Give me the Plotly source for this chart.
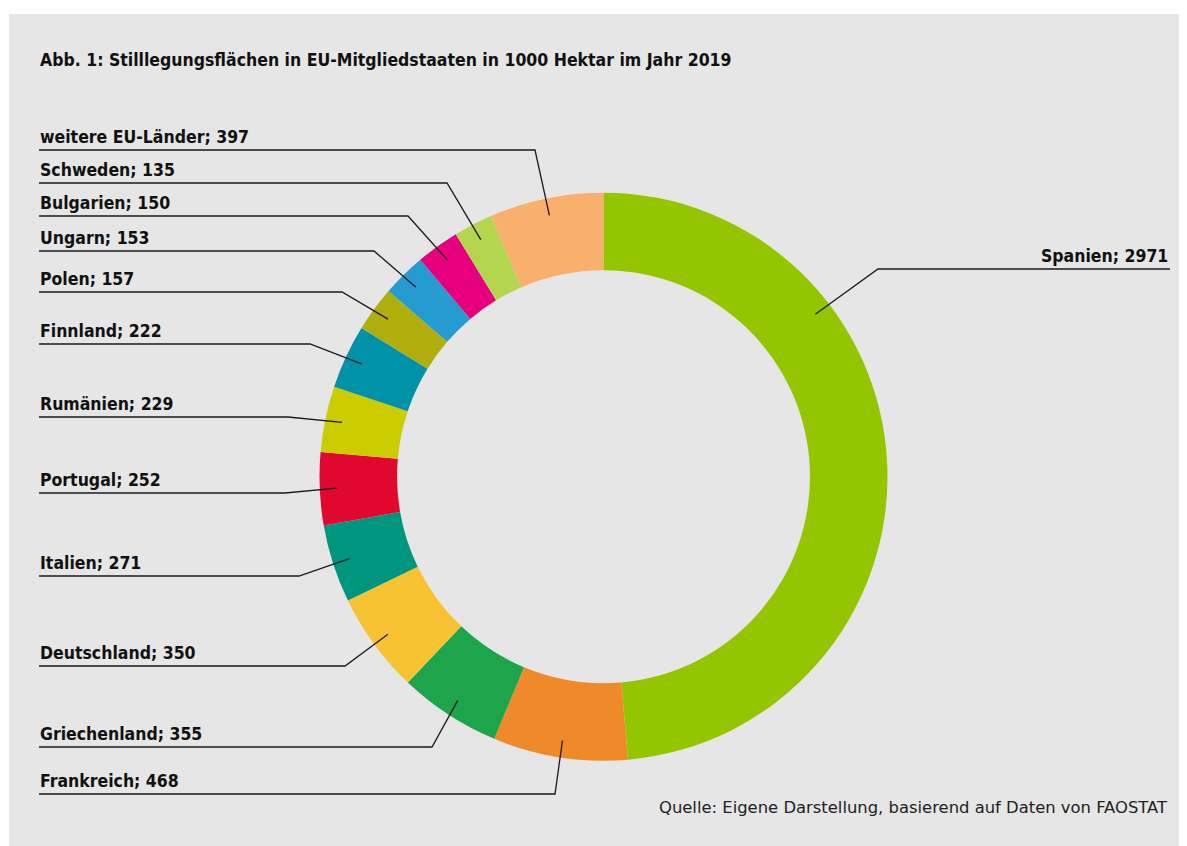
import math
import plotly.graph_objects as go

# ---------------- data ----------------
countries = ["Spanien", "Frankreich", "Griechenland", "Deutschland", "Italien",
             "Portugal", "Rumänien", "Finnland", "Polen", "Ungarn",
             "Bulgarien", "Schweden", "weitere EU-Länder"]
values = [2971, 468, 355, 350, 271, 252, 229, 222, 157, 153, 150, 135, 397]
colors = ["#94c600", "#ef8a2a", "#1ea44a", "#f8c332", "#00957f",
          "#e0082f", "#cccc00", "#0092a8", "#b0ae0d", "#269bd2",
          "#e6007e", "#b3d64e", "#f8b06c"]

title = "Abb. 1: Stilllegungsflächen in EU-Mitgliedstaaten in 1000 Hektar im Jahr 2019"
source = "Quelle: Eigene Darstellung, basierend auf Daten von FAOSTAT"

# ---------------- layout constants (page pixels) ----------------
OFF = 8                      # page body margin
W, H = 1187 - OFF, 846 - OFF
CX, CY, R = 603.5, 476.7, 284.0
HOLE = 0.727
# label rows: underline y, elbow x
label_y = [269, 794, 747, 666, 576, 493, 417, 344, 292, 251, 216, 183, 150]
elbow_x = [878, 555, 432, 345, 299, 285, 288, 310, 342, 374, 408, 447, 535]
# position of leader end inside the slice (fraction of slice span)
anchor_frac = [0.30, 0.5, 0.5, 0.5, 0.5, 0.5, 0.5, 0.5, 0.5, 0.5, 0.5, 0.5, 0.5]
LEFT_X, RIGHT_X = 40, 1170
FONT = "Liberation Sans Narrow, DejaVu Sans Condensed, Arial Narrow, sans-serif"


def px(x):
    return (x - OFF) / W


def py(y):
    return 1 - (y - OFF) / H


fig = go.Figure()
fig.add_trace(go.Pie(
    labels=countries, values=values, sort=False, direction="clockwise",
    rotation=0, hole=HOLE, textinfo="none", hoverinfo="label+value",
    marker=dict(colors=colors, line=dict(width=0)),
    domain=dict(x=[px(CX - R), px(CX + R)], y=[py(CY + R), py(CY - R)]),
    showlegend=False,
))

shapes = [dict(type="rect", xref="paper", yref="paper", x0=px(9), x1=px(1187),
               y0=py(846), y1=py(14), fillcolor="#e6e6e6", line=dict(width=0),
               layer="below")]
annotations = []

total = sum(values)
cum = 0
for i, (name, v) in enumerate(zip(countries, values)):
    frac = (cum + anchor_frac[i] * v) / total
    cum += v
    theta = 2 * math.pi * frac
    rr = 0.94 * R
    ex = CX + rr * math.sin(theta)
    ey = CY - rr * math.cos(theta)
    uy = label_y[i]
    right = (i == 0)
    x_start = RIGHT_X if right else LEFT_X - 1
    path = "M {} {} L {} {} L {} {}".format(
        px(x_start), py(uy), px(elbow_x[i]), py(uy), px(ex), py(ey))
    shapes.append(dict(type="path", xref="paper", yref="paper", path=path,
                       line=dict(color="#1a1a1a", width=1.3)))
    annotations.append(dict(
        xref="paper", yref="paper",
        x=px(1170 if right else LEFT_X - 2), y=py(uy - 1),
        xanchor="right" if right else "left", yanchor="bottom",
        text="<b>{}; {}</b>".format(name, v), showarrow=False,
        font=dict(family=FONT, size=17.5, color="#111111")))

annotations.append(dict(xref="paper", yref="paper", x=px(LEFT_X - 2), y=py(60),
                        xanchor="left", yanchor="middle", showarrow=False,
                        text="<b>" + title + "</b>",
                        font=dict(family=FONT, size=17.5, color="#111111")))
annotations.append(dict(xref="paper", yref="paper", x=px(1170), y=py(807),
                        xanchor="right", yanchor="middle", showarrow=False,
                        text=source,
                        font=dict(family="DejaVu Sans, sans-serif",
                                  size=16.4, color="#222222")))

fig.update_layout(width=W, height=H, margin=dict(l=0, r=0, t=0, b=0),
                  paper_bgcolor="white", plot_bgcolor="white",
                  shapes=shapes, annotations=annotations)

fig.write_html("out.html")
